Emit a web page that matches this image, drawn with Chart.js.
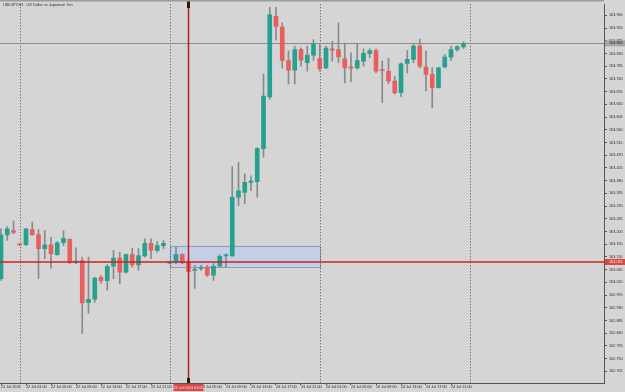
<!DOCTYPE html>
<html><head><meta charset="utf-8">
<style>html,body{margin:0;padding:0;background:#d5d5d5;}canvas{display:block;}</style>
<script src="https://cdn.jsdelivr.net/npm/chart.js@4.4.1/dist/chart.umd.min.js"></script>
</head><body>
<canvas id="c" width="625" height="392"></canvas>
<script>
const chartTitle = "USDJPY,H1:  US Dollar vs Japanese Yen";
const opens  = [163.033,163.188,163.203,163.153,163.153,163.207,163.189,163.139,163.153,163.118,163.160,163.172,163.091,163.097,162.948,162.960,163.038,163.026,163.077,163.106,163.056,163.118,163.082,163.113,163.158,163.133,163.150,163.088,163.091,163.118,163.091,163.062,163.068,163.074,163.045,163.077,163.113,163.113,163.321,163.338,163.374,163.376,163.493,163.676,163.961,163.923,163.805,163.771,163.844,163.797,163.824,163.812,163.779,163.846,163.844,163.811,163.779,163.779,163.803,163.829,163.840,163.770,163.767,163.732,163.691,163.795,163.809,163.856,163.782,163.756,163.709,163.782,163.817,163.844,163.853];
const highs  = [163.210,163.217,163.238,163.157,163.210,163.233,163.207,163.203,163.180,163.164,163.203,163.174,163.142,163.109,163.109,163.038,163.045,163.083,163.133,163.126,163.121,163.140,163.139,163.174,163.174,163.164,163.168,163.091,163.144,163.122,163.097,163.080,163.080,163.080,163.086,163.118,163.121,163.430,163.444,163.404,163.397,163.497,163.757,163.993,163.993,163.938,163.838,163.856,163.850,163.856,163.879,163.862,163.856,163.873,163.938,163.867,163.832,163.867,163.846,163.846,163.846,163.803,163.814,163.750,163.797,163.840,163.864,163.881,163.838,163.779,163.782,163.826,163.856,163.858,163.871];
const lows   = [163.027,163.168,163.192,163.150,163.150,163.186,163.033,163.104,163.070,163.115,163.150,163.086,163.086,162.839,162.910,162.950,163.016,162.992,163.033,163.015,163.052,163.074,163.062,163.109,163.104,163.127,163.139,163.086,163.086,163.086,163.055,162.998,163.062,163.041,163.027,163.074,163.074,163.112,163.291,163.298,163.344,163.321,163.462,163.668,163.877,163.779,163.722,163.722,163.785,163.767,163.805,163.767,163.776,163.803,163.797,163.726,163.730,163.774,163.785,163.814,163.761,163.656,163.723,163.686,163.677,163.761,163.797,163.779,163.697,163.638,163.707,163.779,163.805,163.838,163.848];
const closes = [163.188,163.209,163.197,163.152,163.209,163.189,163.139,163.153,163.121,163.160,163.176,163.091,163.092,162.947,162.960,163.035,163.026,163.077,163.106,163.056,163.118,163.082,163.115,163.158,163.133,163.150,163.158,163.089,163.118,163.089,163.059,163.066,163.072,163.045,163.077,163.112,163.115,163.321,163.344,163.374,163.377,163.493,163.679,163.967,163.926,163.805,163.771,163.844,163.806,163.824,163.864,163.776,163.849,163.842,163.818,163.779,163.778,163.805,163.830,163.840,163.767,163.769,163.732,163.691,163.793,163.809,163.856,163.785,163.756,163.709,163.779,163.817,163.844,163.853,163.865];

const yTickValues = [163.965,163.920,163.875,163.830,163.785,163.740,163.695,163.650,163.605,163.560,163.515,163.470,163.425,163.380,163.335,163.290,163.245,163.200,163.155,163.110,163.065,163.020,162.975,162.930,162.885,162.840,162.795,162.750,162.705];
const xTickIndex = [0,4,8,12,16,20,24,28,32,36,40,44,48,52,56,60,64,68,72];
const xTickLabels = ["21 Jul 2024","22 Jul 01:00","22 Jul 05:00","22 Jul 09:00","22 Jul 13:00","22 Jul 17:00","22 Jul 21:00","23 Jul 01:00","23 Jul 05:00","23 Jul 09:00","23 Jul 13:00","23 Jul 17:00","23 Jul 21:00","24 Jul 01:00","24 Jul 05:00","24 Jul 09:00","24 Jul 13:00","24 Jul 17:00","24 Jul 21:00"];
const daySeparators = [3,27,51,75];
const currentPrice = 163.092;
const levelPrice = 163.866;
const zoneStart = 27, zoneEnd = 51, zoneTop = 163.150, zoneBottom = 163.076;
const crosshairIndex = 30;
const crosshairLabel = "23 Jul 2024 03:00";

const GREEN = '#26a08f', RED = '#e8605e', WICK = '#8a8a8a';
const FONT = 'Liberation Sans';

const bodies = opens.map((o,i)=>({x:i, y:[o, closes[i]]}));
const wicks = lows.map((l,i)=>({x:i, y:[l, highs[i]]}));
const bodyColors = opens.map((o,i)=> closes[i] >= o ? GREEN : RED);

const overlay = {
  id:'overlay',
  beforeDatasetsDraw(chart){
    const {ctx, chartArea:a, scales:{x,y}} = chart;
    ctx.save();
    const zx0 = x.getPixelForValue(zoneStart), zx1 = x.getPixelForValue(zoneEnd);
    const zy0 = y.getPixelForValue(zoneTop), zy1 = y.getPixelForValue(zoneBottom);
    ctx.fillStyle = '#c3cee7';
    ctx.fillRect(zx0, zy0, zx1-zx0, zy1-zy0);
    ctx.strokeStyle = '#8f9cb6'; ctx.lineWidth = 1;
    ctx.strokeRect(Math.round(zx0)+0.5, Math.round(zy0)+0.5, Math.round(zx1-zx0), Math.round(zy1-zy0));
    ctx.setLineDash([1,2]); ctx.strokeStyle = '#505050';
    daySeparators.forEach(i=>{
      const px = Math.round(x.getPixelForValue(i))+0.5;
      ctx.beginPath(); ctx.moveTo(px, a.top); ctx.lineTo(px, a.bottom); ctx.stroke();
    });
    ctx.setLineDash([]);
    const ly = Math.round(y.getPixelForValue(levelPrice))+0.5;
    ctx.strokeStyle = '#8c8c8c';
    ctx.beginPath(); ctx.moveTo(a.left, ly); ctx.lineTo(a.right, ly); ctx.stroke();
    ctx.restore();
  },
  afterDatasetsDraw(chart){
    const {ctx, chartArea:a, scales:{x,y}} = chart;
    ctx.save();
    const py = y.getPixelForValue(currentPrice);
    ctx.strokeStyle = '#cc2020'; ctx.lineWidth = 1.5;
    ctx.beginPath(); ctx.moveTo(a.left, py); ctx.lineTo(a.right, py); ctx.stroke();
    const cx = x.getPixelForValue(crosshairIndex);
    ctx.strokeStyle = '#b81e1e'; ctx.lineWidth = 1.5;
    ctx.beginPath(); ctx.moveTo(cx, a.top); ctx.lineTo(cx, a.bottom); ctx.stroke();
    ctx.fillStyle = '#1e1e1e';
    ctx.fillRect(cx-1.5, 0, 3, 8);
    ctx.fillRect(cx-1.5, a.bottom-5, 3, 5);
    ctx.restore();
  },
  afterDraw(chart){
    const {ctx, chartArea:a, scales:{x,y}} = chart;
    ctx.save();
    ctx.fillStyle = '#9c9c9c';
    ctx.fillRect(0, 0, a.right, 1.5);
    ctx.font = '3.8px "'+FONT+'"';
    ctx.textBaseline = 'middle';
    ctx.fillStyle = '#2a2a2a'; ctx.textAlign = 'left';
    ctx.fillText(chartTitle, 3, 4.5);
    // level label box
    const ly = y.getPixelForValue(levelPrice);
    ctx.fillStyle = '#a6a6a6'; ctx.fillRect(a.right+1, ly-3, 20, 6);
    ctx.fillStyle = '#1c1c1c'; ctx.fillText(levelPrice.toFixed(3), a.right+5, ly);
    // current price box
    const py = y.getPixelForValue(currentPrice);
    ctx.fillStyle = '#d94848'; ctx.fillRect(a.right+1, py-3, 20, 6);
    ctx.fillStyle = '#f4e0e0'; ctx.fillText(currentPrice.toFixed(3), a.right+5, py);
    // crosshair time label
    const cx = x.getPixelForValue(crosshairIndex);
    ctx.fillStyle = '#d94848'; ctx.fillRect(cx-15, a.bottom+1, 30, 7);
    ctx.fillStyle = '#f4e0e0'; ctx.textAlign = 'center';
    ctx.fillText(crosshairLabel, cx, a.bottom+4.5);
    ctx.restore();
  }
};

new Chart(document.getElementById('c'), {
  type:'bar',
  data:{datasets:[
    {data:bodies, backgroundColor:bodyColors, borderWidth:0, barThickness:4, grouped:false, minBarLength:1.2, order:0},
    {data:wicks, backgroundColor:WICK, borderWidth:0, barThickness:1, grouped:false, order:1}
  ]},
  options:{
    responsive:false, animation:false, devicePixelRatio:1,
    layout:{padding:{top:3,left:0,right:0,bottom:0}},
    plugins:{legend:{display:false}, tooltip:{enabled:false}},
    scales:{
      x:{type:'linear', min:-0.16, max:96.48, offset:false,
        grid:{display:true, drawOnChartArea:false, tickLength:2, color:'#555', offset:false},
        border:{display:true, color:'#555', width:1},
        ticks:{autoSkip:false, maxRotation:0, minRotation:0, align:'start', padding:0,
          color:'#2a2a2a', font:{family:FONT, size:3.8},
          callback:(v)=>{const k=xTickIndex.indexOf(v); return k>=0?xTickLabels[k]:'';}},
        afterBuildTicks:(s)=>{s.ticks = xTickIndex.map(v=>({value:v}));},
        afterFit:(s)=>{s.height = 9;}
      },
      y:{type:'linear', position:'right', min:162.6637, max:164.004,
        grid:{display:true, drawOnChartArea:false, tickLength:3, color:'#555'},
        border:{display:true, color:'#555', width:1},
        ticks:{padding:2, color:'#2a2a2a', font:{family:FONT, size:3.8},
          callback:(v)=>Number(v).toFixed(3)},
        afterBuildTicks:(s)=>{s.ticks = yTickValues.map(v=>({value:v}));},
        afterFit:(s)=>{s.width = 21;}
      }
    }
  },
  plugins:[overlay]
});
</script>
</body></html>
